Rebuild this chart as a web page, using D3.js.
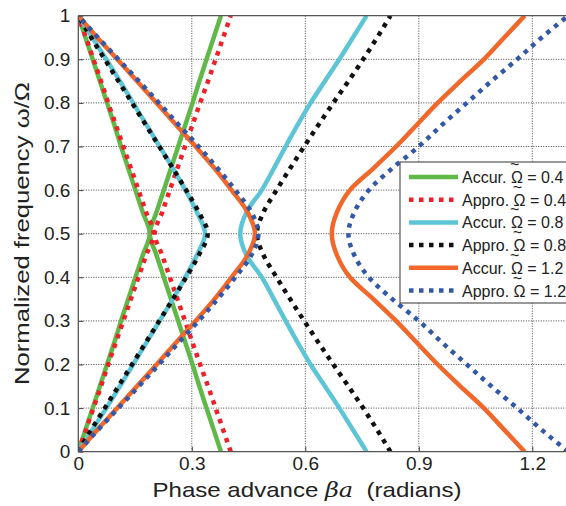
<!DOCTYPE html>
<html>
<head>
<meta charset="utf-8">
<script src="https://cdn.jsdelivr.net/npm/d3@7/dist/d3.min.js"></script>
<style>
body { margin: 0; background: #fff; }
text { font-family: "Liberation Sans", Arial, sans-serif; fill: #222; }
</style>
</head>
<body>
<div id="chart"></div>
<script>
// normalized frequency samples (w / Omega)
var omega = [0, 0.05, 0.1, 0.15, 0.2, 0.25, 0.3, 0.35, 0.4, 0.45, 0.5,
             0.55, 0.6, 0.65, 0.7, 0.75, 0.8, 0.85, 0.9, 0.95, 1];

// phase advance, inner (">") and outer ("<") branch of each curve
var accur04Inner = [0, 0.019, 0.038, 0.057, 0.076, 0.095, 0.113, 0.132, 0.151, 0.170, 0.189,
                    0.170, 0.151, 0.132, 0.113, 0.095, 0.076, 0.057, 0.038, 0.019, 0];
var accur04Outer = [0.377, 0.358, 0.339, 0.320, 0.302, 0.283, 0.264, 0.245, 0.226, 0.207, 0.189,
                    0.207, 0.226, 0.245, 0.264, 0.283, 0.302, 0.320, 0.339, 0.358, 0.377];
var appro04Inner = [0, 0.02, 0.04, 0.06, 0.079, 0.099, 0.119, 0.139, 0.159, 0.179, 0.199,
                    0.179, 0.159, 0.139, 0.119, 0.099, 0.079, 0.06, 0.04, 0.02, 0];
var appro04Outer = [0.403, 0.383, 0.363, 0.343, 0.322, 0.302, 0.282, 0.262, 0.242, 0.222, 0.202,
                    0.222, 0.242, 0.262, 0.282, 0.302, 0.322, 0.343, 0.363, 0.383, 0.403];
var accur08Inner = [0, 0.037, 0.074, 0.11, 0.145, 0.18, 0.215, 0.25, 0.283, 0.313, 0.335,
                    0.313, 0.283, 0.25, 0.215, 0.18, 0.145, 0.11, 0.074, 0.037, 0];
var accur08Outer = [0.762, 0.726, 0.69, 0.652, 0.614, 0.58, 0.548, 0.517, 0.485, 0.445, 0.428,
                    0.445, 0.485, 0.517, 0.548, 0.58, 0.614, 0.652, 0.69, 0.726, 0.762];
var appro08Inner = [0, 0.034, 0.07, 0.106, 0.142, 0.178, 0.214, 0.25, 0.285, 0.318, 0.342,
                    0.318, 0.285, 0.25, 0.214, 0.178, 0.142, 0.106, 0.07, 0.034, 0];
var appro08Outer = [0.825, 0.79, 0.753, 0.714, 0.674, 0.635, 0.597, 0.56, 0.524, 0.49, 0.472,
                    0.49, 0.524, 0.56, 0.597, 0.635, 0.674, 0.714, 0.753, 0.79, 0.825];
var accur12Inner = [0, 0.05, 0.103, 0.155, 0.207, 0.258, 0.31, 0.36, 0.405, 0.447, 0.467,
                    0.447, 0.405, 0.36, 0.31, 0.258, 0.207, 0.155, 0.103, 0.05, 0];
var accur12Outer = [1.18, 1.126, 1.072, 1.01, 0.95, 0.895, 0.84, 0.78, 0.718, 0.684, 0.67,
                    0.684, 0.718, 0.78, 0.84, 0.895, 0.95, 1.01, 1.072, 1.126, 1.18];
var appro12Inner = [0, 0.052, 0.106, 0.16, 0.213, 0.265, 0.318, 0.368, 0.415, 0.457, 0.476,
                    0.457, 0.415, 0.368, 0.318, 0.265, 0.213, 0.16, 0.106, 0.052, 0];
var appro12Outer = [1.295, 1.225, 1.16, 1.092, 1.027, 0.962, 0.9, 0.83, 0.768, 0.73, 0.714,
                    0.73, 0.768, 0.83, 0.9, 0.962, 1.027, 1.092, 1.16, 1.225, 1.295];

var legendKinds = ["Accur.", "Appro.", "Accur.", "Appro.", "Accur.", "Appro."];
var legendOmegas = ["0.4", "0.4", "0.8", "0.8", "1.2", "1.2"];
var xTicks = [0, 0.3, 0.6, 0.9, 1.2];
var yTicks = [0, 0.1, 0.2, 0.3, 0.4, 0.5, 0.6, 0.7, 0.8, 0.9, 1];

var series = [
    {inner: accur04Inner, outer: accur04Outer, color: "#5fb847", dotted: false},
    {inner: appro04Inner, outer: appro04Outer, color: "#ee2129", dotted: true},
    {inner: accur08Inner, outer: accur08Outer, color: "#5ec5d6", dotted: false},
    {inner: appro08Inner, outer: appro08Outer, color: "#111111", dotted: true},
    {inner: accur12Inner, outer: accur12Outer, color: "#f2672a", dotted: false},
    {inner: appro12Inner, outer: appro12Outer, color: "#3458a8", dotted: true}
];

var width = 566, height = 506;
var plotLeft = 78.3, plotTop = 15.7, plotBottom = 451.7;

var svg = d3.select("#chart").append("svg")
    .attr("width", width)
    .attr("height", height);

var x = d3.scaleLinear().domain([0, 1.3]).range([plotLeft, plotLeft + 1.3 / 0.3 * 113.5]);
var y = d3.scaleLinear().domain([0, 1]).range([plotBottom, plotTop]);

svg.append("defs").append("clipPath").attr("id", "plotClip")
    .append("rect")
    .attr("x", plotLeft).attr("y", plotTop)
    .attr("width", width - plotLeft).attr("height", plotBottom - plotTop);

// grid
var grid = svg.append("g");
grid.selectAll(".vgrid").data(xTicks.slice(1)).enter().append("line")
    .attr("x1", function(d){ return x(d); })
    .attr("x2", function(d){ return x(d); })
    .attr("y1", plotTop).attr("y2", plotBottom)
    .attr("stroke", "#444").attr("stroke-width", 1)
    .attr("stroke-dasharray", "1,1.5");
grid.selectAll(".hgrid").data(yTicks.slice(1, -1)).enter().append("line")
    .attr("y1", function(d){ return y(d); })
    .attr("y2", function(d){ return y(d); })
    .attr("x1", plotLeft).attr("x2", width)
    .attr("stroke", "#444").attr("stroke-width", 1)
    .attr("stroke-dasharray", "1,1.5");

// curves
var line = d3.line()
    .x(function(d){ return x(d[0]); })
    .y(function(d){ return y(d[1]); })
    .curve(d3.curveMonotoneY);

var curves = svg.append("g").attr("clip-path", "url(#plotClip)");
series.forEach(function(s){
    [s.inner, s.outer].forEach(function(branch){
        var pts = branch.map(function(b, i){ return [b, omega[i]]; });
        curves.append("path")
            .attr("d", line(pts))
            .attr("fill", "none")
            .attr("stroke", s.color)
            .attr("stroke-width", 4.5)
            .attr("stroke-dasharray", s.dotted ? "4.5,5.5" : null);
    });
});

// axes
var fmt = function(d){ return String(+d.toFixed(1)); };
var yAxis = d3.axisLeft(y).tickValues(yTicks).tickSize(-5).tickPadding(8).tickFormat(fmt);
var xAxis = d3.axisBottom(x).tickValues(xTicks).tickSize(-5).tickPadding(5).tickFormat(fmt);

var gy = svg.append("g").attr("transform", "translate(" + plotLeft + ",0)").call(yAxis);
var gx = svg.append("g").attr("transform", "translate(0," + plotBottom + ")").call(xAxis);
[gx, gy].forEach(function(g){
    g.select(".domain").remove();
    g.selectAll(".tick line").attr("stroke", "#444");
    g.selectAll(".tick text").style("font-size", "19px").attr("fill", "#222");
});

// box
svg.append("line").attr("x1", plotLeft).attr("x2", plotLeft).attr("y1", plotTop).attr("y2", plotBottom)
    .attr("stroke", "#555").attr("stroke-width", 1.3);
svg.append("line").attr("x1", plotLeft).attr("x2", width).attr("y1", plotBottom).attr("y2", plotBottom)
    .attr("stroke", "#555").attr("stroke-width", 1.3);
svg.append("line").attr("x1", plotLeft).attr("x2", width).attr("y1", plotTop).attr("y2", plotTop)
    .attr("stroke", "#555").attr("stroke-width", 1.3);

// axis titles
var xt = svg.append("text")
    .attr("x", 307).attr("y", 497)
    .attr("text-anchor", "middle")
    .attr("textLength", 309)
    .attr("lengthAdjust", "spacingAndGlyphs")
    .style("font-size", "21px");
xt.append("tspan").text("Phase advance ");
xt.append("tspan").style("font-style", "italic").style("font-family", "'DejaVu Serif', serif").text("\u03B2a");
xt.append("tspan").text("\u00A0 (radians)");

svg.append("text")
    .attr("transform", "translate(29,233.5) rotate(-90)")
    .attr("text-anchor", "middle")
    .attr("textLength", 303)
    .attr("lengthAdjust", "spacingAndGlyphs")
    .style("font-size", "21px")
    .text("Normalized frequency \u03C9/\u03A9");

// legend
var lg = svg.append("g");
lg.append("rect")
    .attr("x", 400).attr("y", 162)
    .attr("width", 180).attr("height", 141)
    .attr("fill", "#fff").attr("stroke", "#555").attr("stroke-width", 1.2);

legendKinds.forEach(function(kind, i){
    var s = series[i];
    var ly = 177 + i * 22.7;
    lg.append("line")
        .attr("x1", 409).attr("x2", 458)
        .attr("y1", ly).attr("y2", ly)
        .attr("stroke", s.color).attr("stroke-width", 4.5)
        .attr("stroke-dasharray", s.dotted ? "4.5,5.5" : null);
    var t = lg.append("text").attr("x", 462).attr("y", ly + 6).style("font-size", "16px");
    t.append("tspan").text(kind + " ");
    var w0 = t.node().getComputedTextLength();
    t.append("tspan").text("\u03A9");
    var w1 = t.node().getComputedTextLength();
    t.append("tspan").text(" = " + legendOmegas[i]);
    lg.append("text")
        .attr("x", 462 + (w0 + w1) / 2).attr("y", ly - 7)
        .attr("text-anchor", "middle")
        .style("font-size", "16px")
        .text("~");
});
</script>
</body>
</html>
